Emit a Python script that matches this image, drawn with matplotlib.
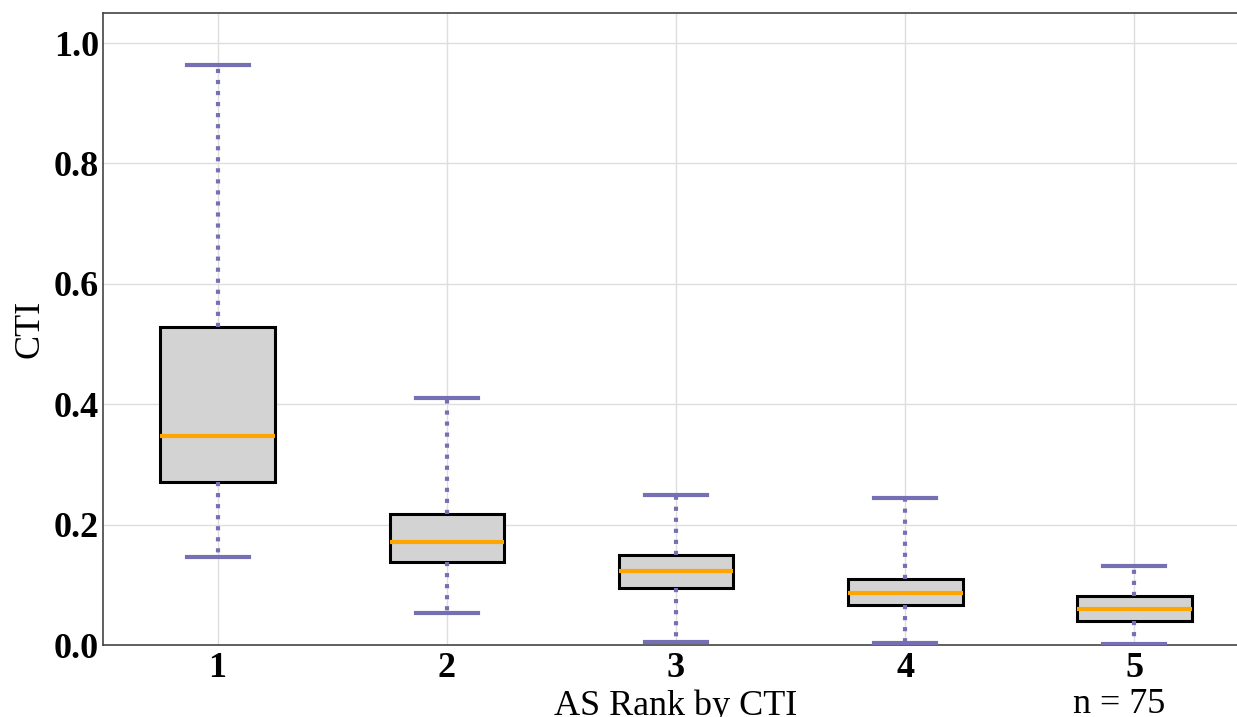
import matplotlib
matplotlib.use("Agg")
import matplotlib.pyplot as plt

ranks = [1, 2, 3, 4, 5]
whislo = [0.146, 0.053, 0.005, 0.003, 0.001]
q1 = [0.271, 0.138, 0.095, 0.066, 0.040]
med = [0.347, 0.171, 0.123, 0.086, 0.060]
q3 = [0.528, 0.217, 0.150, 0.110, 0.081]
whishi = [0.963, 0.411, 0.249, 0.244, 0.131]
yticks = [0.0, 0.2, 0.4, 0.6, 0.8, 1.0]

PURPLE = "#7570b3"
ORANGE = "#ffa500"


def main() -> None:
    plt.rcParams["font.family"] = ["Liberation Serif", "DejaVu Serif"]
    stats = [
        {"label": str(r), "whislo": lo, "q1": a, "med": m, "q3": b, "whishi": hi, "fliers": []}
        for r, lo, a, m, b, hi in zip(ranks, whislo, q1, med, q3, whishi)
    ]
    fig = plt.figure(figsize=(12.37, 7.17), dpi=100)
    ax = fig.add_axes([103 / 1237, 1 - 645 / 717, 1146 / 1237, 632 / 717])
    ax.bxp(
        stats,
        positions=ranks,
        widths=0.5,
        patch_artist=True,
        showfliers=False,
        boxprops=dict(facecolor="#d3d3d3", edgecolor="black", linewidth=2.2),
        medianprops=dict(color=ORANGE, linewidth=3),
        whiskerprops=dict(color=PURPLE, linewidth=3, linestyle=":"),
        capprops=dict(color=PURPLE, linewidth=3),
        capwidths=0.27,
        zorder=3,
    )
    ax.set_xlim(0.5, 5.5)
    ax.set_ylim(0, 1.05)
    ax.set_yticks(yticks)
    ax.set_yticklabels([f"{t:.1f}" for t in yticks])
    ax.grid(color="#dedede", linewidth=1, zorder=0)
    ax.set_axisbelow(True)
    for s in ax.spines.values():
        s.set_color("#444444")
        s.set_linewidth(1.2)
    ax.tick_params(length=0, labelsize=26, pad=3)
    ax.tick_params(axis="x", pad=5)
    for lab in ax.get_xticklabels() + ax.get_yticklabels():
        lab.set_fontweight("bold")
    ax.set_xlabel("AS Rank by CTI", fontsize=26, labelpad=3)
    ax.set_ylabel("CTI", fontsize=26, va="center")
    ax.yaxis.set_label_coords(-0.0637, 0.5)
    ax.annotate("n = 75", xy=(5, 0), xycoords=("data", "axes fraction"),
                xytext=(-11, -31), textcoords="offset points",
                ha="center", va="top", fontsize=26)
    fig.savefig("out.png", dpi=100)
    plt.close(fig)


if __name__ == "__main__":
    main()
